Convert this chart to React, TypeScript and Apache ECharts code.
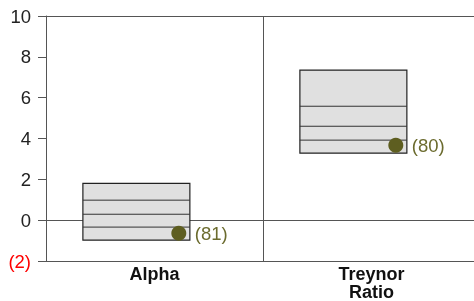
import React, { useEffect, useRef } from "react";
import * as echarts from "echarts";

const categories = ["Alpha", "Treynor\nRatio"];
// box quantile lines: top, q1, median, q3, bottom
const boxTop = [1.8, 7.35];
const boxQ1 = [0.98, 5.58];
const boxQ2 = [0.29, 4.6];
const boxQ3 = [-0.34, 3.92];
const boxBottom = [-0.98, 3.28];
const markerValues = [-0.64, 3.67];
const markerLabels = ["(81)", "(80)"];
const yTicks = { min: -2, max: 10, interval: 2 };

const FONT = "Liberation Sans, Arial, sans-serif";

export default function App() {
  const ref = useRef<HTMLDivElement>(null);
  useEffect(() => {
    const chart = echarts.init(ref.current!, null, { renderer: "svg" });
    const data = categories.map((_, i) => [
      i,
      boxTop[i],
      boxQ1[i],
      boxQ2[i],
      boxQ3[i],
      boxBottom[i],
      markerValues[i],
    ]);
    chart.setOption({
      animation: false,
      grid: { left: 46, width: 434, top: 16, bottom: 40, outerBoundsMode: "none", containLabel: false },
      xAxis: {
        type: "category",
        data: categories,
        boundaryGap: true,
        axisLine: { show: true, lineStyle: { color: "#555", width: 1 } },
        axisTick: { show: false },
        splitLine: { show: true, lineStyle: { color: "#555", width: 1 } },
        axisLabel: {
          color: "#111",
          fontWeight: "bold",
          fontSize: 18,
          fontFamily: FONT,
          lineHeight: 18,
          margin: 4,
        },
      },
      yAxis: {
        type: "value",
        min: yTicks.min,
        max: yTicks.max,
        interval: yTicks.interval,
        axisLine: { show: true, lineStyle: { color: "#555", width: 1 } },
        axisTick: { show: true, length: 8, lineStyle: { color: "#555" } },
        splitLine: {
          show: true,
          lineStyle: {
            color: ["#555", "#555", "transparent", "transparent", "transparent", "transparent", "#555"],
            width: 1,
          },
        },
        axisLabel: {
          margin: 15,
          fontSize: 18.5,
          fontFamily: FONT,
          color: "#222",
          formatter: (v: number) => (v < 0 ? `{neg|(${Math.abs(v)})}` : `${v}`),
          rich: {
            neg: {
              color: "#ff0000",
              fontSize: 18.5,
              fontFamily: FONT,
            },
          },
        },
      },
      series: [
        {
          type: "custom",
          data,
          encode: { x: 0, y: [1, 2, 3, 4, 5, 6] },
          renderItem: (params: any, api: any) => {
            const idx = api.value(0);
            const band = api.size([1, 0])[0];
            const top = api.coord([idx, api.value(1)]);
            const bottom = api.coord([idx, api.value(5)]);
            const cx = top[0];
            const x0 = cx - 0.33 * band;
            const x1 = cx + 0.163 * band;
            const children: any[] = [
              {
                type: "rect",
                shape: { x: x0, y: top[1], width: x1 - x0, height: bottom[1] - top[1] },
                style: { fill: "#e0e0e0", stroke: "#222", lineWidth: 1.2 },
              },
            ];
            for (let k = 2; k <= 4; k++) {
              const p = api.coord([idx, api.value(k)]);
              children.push({
                type: "line",
                shape: { x1: x0, y1: p[1], x2: x1, y2: p[1] },
                style: { stroke: "#333", lineWidth: 1 },
              });
            }
            const m = api.coord([idx, api.value(6)]);
            const mx = cx + 0.112 * band;
            children.push({
              type: "circle",
              shape: { cx: mx, cy: m[1], r: 7.5 },
              style: { fill: "#5e5e20" },
            });
            children.push({
              type: "text",
              x: mx + 16,
              y: m[1],
              style: {
                text: markerLabels[idx],
                fill: "#6b6b2e",
                fontSize: 18.5,
                fontFamily: FONT,
                verticalAlign: "middle",
                align: "left",
              },
            });
            return { type: "group", children };
          },
        },
      ],
    });
    return () => chart.dispose();
  }, []);
  return (
    <div
      ref={ref}
      style={{ position: "fixed", left: 0, top: 0, width: 474, height: 301 }}
    />
  );
}
